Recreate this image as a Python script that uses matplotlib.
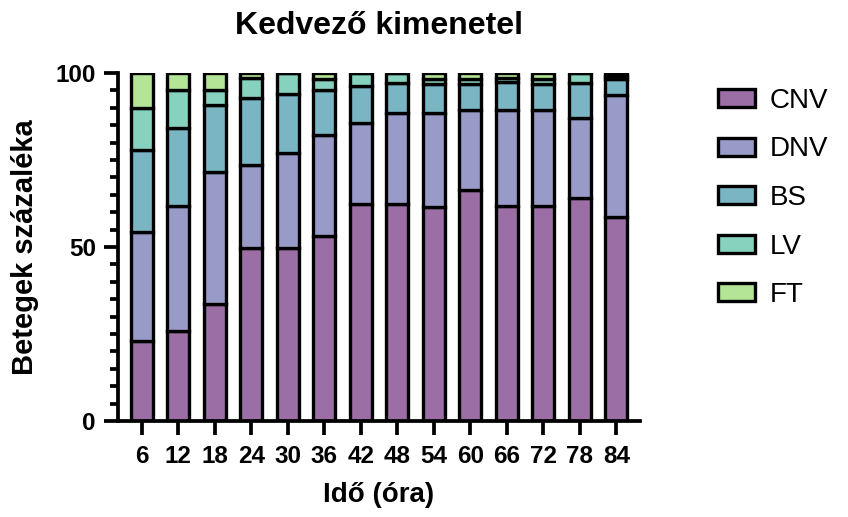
import matplotlib
matplotlib.use("Agg")
import matplotlib.pyplot as plt
import numpy as np
from matplotlib.ticker import MultipleLocator

plt.rcParams['font.family'] = ['Liberation Sans', 'DejaVu Sans']

hours = ["6", "12", "18", "24", "30", "36", "42", "48", "54", "60", "66", "72", "78", "84"]
CNV = [23.0, 25.9, 33.6, 49.6, 49.6, 53.2, 62.4, 62.4, 61.4, 66.4, 61.9, 61.9, 64.2, 58.7]
DNV = [31.4, 35.9, 37.9, 24.0, 27.3, 29.0, 23.1, 26.0, 27.0, 23.1, 27.5, 27.5, 23.0, 34.9]
BS = [23.4, 22.5, 19.3, 19.2, 17.2, 12.8, 10.7, 8.8, 8.4, 7.3, 8.0, 7.4, 10.0, 4.8]
LV = [12.0, 10.8, 4.2, 5.7, 5.9, 3.2, 3.8, 2.8, 1.6, 1.6, 1.3, 1.6, 2.8, 0.8]
FT = [10.2, 4.9, 5.0, 1.5, 0.0, 1.8, 0.0, 0.0, 1.6, 1.6, 1.3, 1.6, 0.0, 0.8]

series = {"CNV": CNV, "DNV": DNV, "BS": BS, "LV": LV, "FT": FT}
colors = {"CNV": "#9B6EA5", "DNV": "#989AC8", "BS": "#7AB5C4", "LV": "#86D2BE", "FT": "#B4E496"}

fig = plt.figure(figsize=(8.48, 5.17), dpi=100)
ax = fig.add_axes([118/848, 1-421/517, (640-118)/848, (421-73)/517])

x = np.arange(len(hours))
bottom = np.zeros(len(hours))
handles = []
for name, vals in series.items():
    v = np.array(vals)
    b = ax.bar(x, v, bottom=bottom, width=0.6, color=colors[name], edgecolor="black",
               linewidth=2.4, label=name, zorder=2)
    handles.append(b)
    bottom += v

ax.set_xlim(-0.65, 13.65)
ax.set_ylim(0, 100)
ax.set_xticks(x)
ax.set_xticklabels(hours)
ax.set_yticks([0, 50, 100])
ax.yaxis.set_minor_locator(MultipleLocator(5))
for s in ["top", "right"]:
    ax.spines[s].set_visible(False)
for s in ["left", "bottom"]:
    ax.spines[s].set_linewidth(2.7)
ax.tick_params(axis="both", which="major", width=2.7, length=10, labelsize=17.5)
ax.tick_params(axis="x", which="major", pad=7)
ax.tick_params(axis="y", which="major", pad=6)
ax.tick_params(axis="y", which="minor", width=2.7, length=6)
for lbl in ax.get_xticklabels() + ax.get_yticklabels():
    lbl.set_fontweight("bold")

ax.set_title("Kedvező kimenetel", fontsize=23, fontweight="bold", pad=28)
ax.set_xlabel("Idő (óra)", fontsize=20, fontweight="bold", labelpad=10)
ax.set_ylabel("Betegek százaléka", fontsize=21, fontweight="bold", labelpad=12)

leg = ax.legend(handles=handles, loc="upper left", bbox_to_anchor=(693/848, 1-63/517),
                bbox_transform=fig.transFigure, frameon=False, fontsize=20,
                handlelength=1.33, handleheight=0.61, handletextpad=0.54, labelspacing=0.81)
for p in leg.get_patches():
    p.set_linewidth(2.4)

fig.savefig("out.png", dpi=100)
